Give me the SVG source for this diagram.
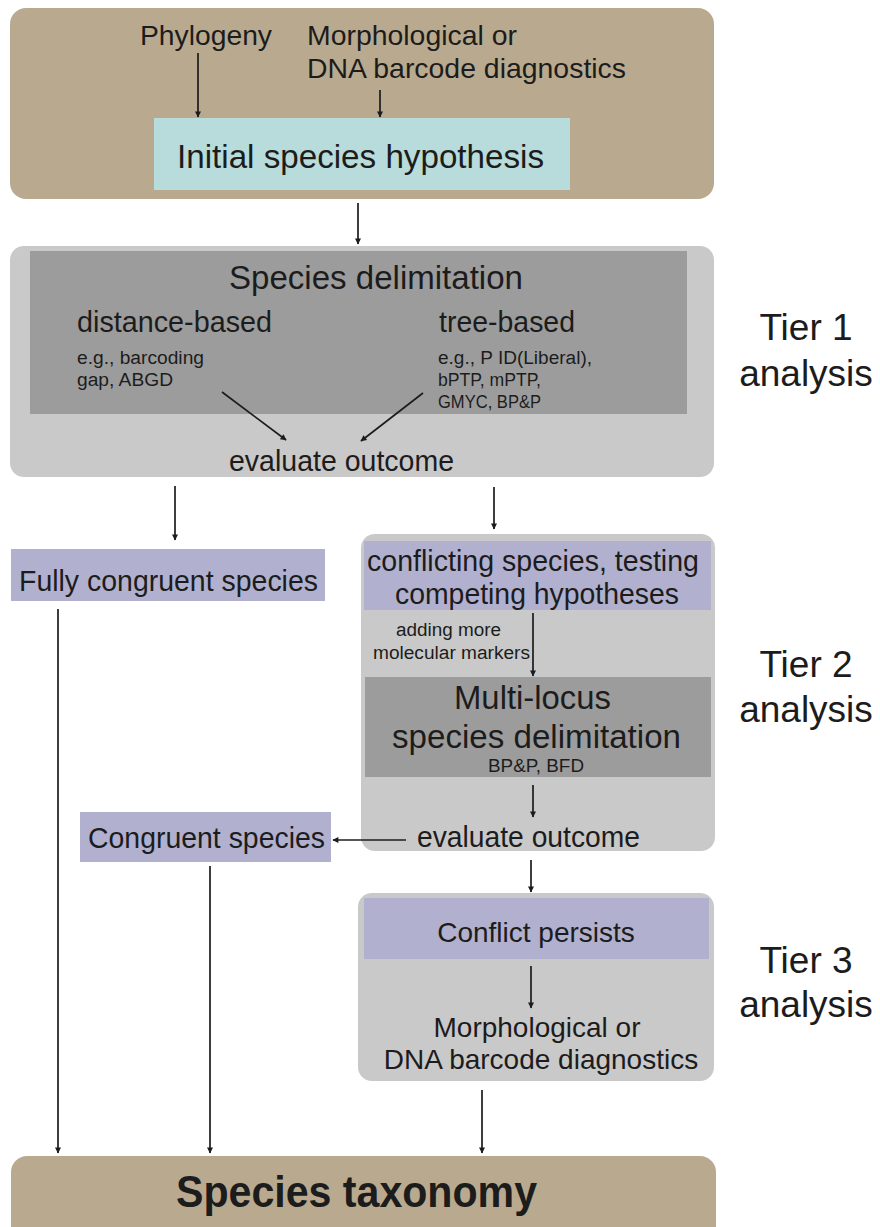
<svg xmlns="http://www.w3.org/2000/svg" width="880" height="1227" viewBox="0 0 880 1227">
  <style>
    text { font-family: "Liberation Sans", Arial, sans-serif; fill: #1c1c1c; }
    .mid { text-anchor: middle; }
    .brown { fill: #b9aa8f; }
    .cyan { fill: #b8dcdb; }
    .light { fill: #c9c9c9; }
    .dark { fill: #9c9c9c; }
    .lilac { fill: #b1b1cf; }
    .conn { stroke: #1c1c1c; stroke-width: 1.7; fill: none; marker-end: url(#arrow); }
  </style>
  <defs>
    <marker id="arrow" viewBox="0 0 10 10" refX="9" refY="5" markerWidth="9" markerHeight="6" orient="auto" markerUnits="userSpaceOnUse">
      <path d="M0,0 L10,5 L0,10 Z" fill="#1c1c1c"/>
    </marker>
  </defs>
  <rect width="880" height="1227" fill="#ffffff"/>

  <!-- Input stage -->
  <g id="input">
    <rect class="brown" x="10" y="8" width="704" height="191" rx="16"/>
    <text x="140" y="45" font-size="28" textLength="132" lengthAdjust="spacingAndGlyphs">Phylogeny</text>
    <text x="307" y="45" font-size="28" textLength="210" lengthAdjust="spacingAndGlyphs">Morphological or</text>
    <text x="307" y="78" font-size="28" textLength="319" lengthAdjust="spacingAndGlyphs">DNA barcode diagnostics</text>
  </g>
  <g id="initial-hypothesis">
    <rect class="cyan" x="154" y="118" width="416" height="72"/>
    <text x="177" y="168" font-size="33" textLength="367" lengthAdjust="spacingAndGlyphs">Initial species hypothesis</text>
  </g>

  <!-- Tier 1 -->
  <g id="tier1">
    <rect class="light" x="10" y="246" width="704" height="231" rx="14"/>
    <rect class="dark" x="30" y="251" width="657" height="163"/>
    <text x="229" y="289" font-size="33" textLength="294" lengthAdjust="spacingAndGlyphs">Species delimitation</text>
    <text x="77" y="332" font-size="29" textLength="195" lengthAdjust="spacingAndGlyphs">distance-based</text>
    <text x="439" y="332" font-size="29" textLength="136" lengthAdjust="spacingAndGlyphs">tree-based</text>
    <text x="77" y="364" font-size="18" textLength="127" lengthAdjust="spacingAndGlyphs">e.g., barcoding</text>
    <text x="77" y="386" font-size="18" textLength="96" lengthAdjust="spacingAndGlyphs">gap, ABGD</text>
    <text x="438" y="364" font-size="18" textLength="154" lengthAdjust="spacingAndGlyphs">e.g., P ID(Liberal),</text>
    <text x="438" y="386" font-size="18" textLength="103" lengthAdjust="spacingAndGlyphs">bPTP, mPTP,</text>
    <text x="438" y="408" font-size="18" textLength="103" lengthAdjust="spacingAndGlyphs">GMYC, BP&amp;P</text>
    <text x="229" y="471" font-size="29" textLength="225" lengthAdjust="spacingAndGlyphs">evaluate outcome</text>
  </g>
  <g id="tier1-label">
    <text class="mid" x="806" y="340" font-size="37">Tier 1</text>
    <text class="mid" x="806" y="386" font-size="37">analysis</text>
  </g>

  <!-- Congruent outcome -->
  <g id="fully-congruent">
    <rect class="lilac" x="11" y="549" width="314" height="52"/>
    <text x="19" y="591" font-size="30" textLength="299" lengthAdjust="spacingAndGlyphs">Fully congruent species</text>
  </g>

  <!-- Tier 2 -->
  <g id="tier2">
    <rect class="light" x="361" y="534" width="354" height="317" rx="14"/>
    <rect class="lilac" x="364" y="541" width="347" height="69"/>
    <text x="367" y="571" font-size="30" textLength="332" lengthAdjust="spacingAndGlyphs">conflicting species, testing</text>
    <text x="395" y="604" font-size="30" textLength="284" lengthAdjust="spacingAndGlyphs">competing hypotheses</text>
    <text x="396" y="636" font-size="18" textLength="105" lengthAdjust="spacingAndGlyphs">adding more</text>
    <text x="373" y="659" font-size="18" textLength="157" lengthAdjust="spacingAndGlyphs">molecular markers</text>
    <rect class="dark" x="365" y="677" width="346" height="100"/>
    <text x="454" y="709" font-size="34" textLength="157" lengthAdjust="spacingAndGlyphs">Multi-locus</text>
    <text x="392" y="748" font-size="34" textLength="289" lengthAdjust="spacingAndGlyphs">species delimitation</text>
    <text x="488" y="772" font-size="18" textLength="96" lengthAdjust="spacingAndGlyphs">BP&amp;P, BFD</text>
    <text x="417" y="847" font-size="29" textLength="223" lengthAdjust="spacingAndGlyphs">evaluate outcome</text>
  </g>
  <g id="tier2-label">
    <text class="mid" x="806" y="677" font-size="37">Tier 2</text>
    <text class="mid" x="806" y="722" font-size="37">analysis</text>
  </g>

  <g id="congruent">
    <rect class="lilac" x="80" y="812" width="251" height="50"/>
    <text x="88" y="848" font-size="30" textLength="237" lengthAdjust="spacingAndGlyphs">Congruent species</text>
  </g>

  <!-- Tier 3 -->
  <g id="tier3">
    <rect class="light" x="358" y="893" width="356" height="188" rx="14"/>
    <rect class="lilac" x="364" y="898" width="345" height="61"/>
    <text class="mid" x="536" y="942" font-size="28">Conflict persists</text>
    <text class="mid" x="537" y="1037" font-size="28">Morphological or</text>
    <text class="mid" x="541" y="1069" font-size="28">DNA barcode diagnostics</text>
  </g>
  <g id="tier3-label">
    <text class="mid" x="806" y="973" font-size="37">Tier 3</text>
    <text class="mid" x="806" y="1017" font-size="37">analysis</text>
  </g>

  <!-- Result -->
  <g id="taxonomy">
    <rect class="brown" x="11" y="1156" width="705" height="90" rx="16"/>
    <text x="176" y="1207" font-size="44" font-weight="bold" textLength="361" lengthAdjust="spacingAndGlyphs">Species taxonomy</text>
  </g>

  <!-- Connectors -->
  <g id="connectors">
    <line class="conn" x1="198" y1="53" x2="198" y2="117"/>
    <line class="conn" x1="380" y1="90" x2="380" y2="117"/>
    <line class="conn" x1="358" y1="203" x2="358" y2="244"/>
    <line class="conn" x1="222" y1="392" x2="286" y2="440"/>
    <line class="conn" x1="423" y1="393" x2="361" y2="441"/>
    <line class="conn" x1="175" y1="486" x2="175" y2="540"/>
    <line class="conn" x1="494" y1="487" x2="494" y2="529"/>
    <line class="conn" x1="533" y1="613" x2="533" y2="676"/>
    <line class="conn" x1="533" y1="785" x2="533" y2="817"/>
    <line class="conn" x1="406" y1="840" x2="333" y2="840"/>
    <line class="conn" x1="531" y1="860" x2="531" y2="892"/>
    <line class="conn" x1="531" y1="966" x2="531" y2="1008"/>
    <line class="conn" x1="58" y1="609" x2="58" y2="1153"/>
    <line class="conn" x1="210" y1="866" x2="210" y2="1153"/>
    <line class="conn" x1="482" y1="1090" x2="482" y2="1153"/>
  </g>
</svg>
